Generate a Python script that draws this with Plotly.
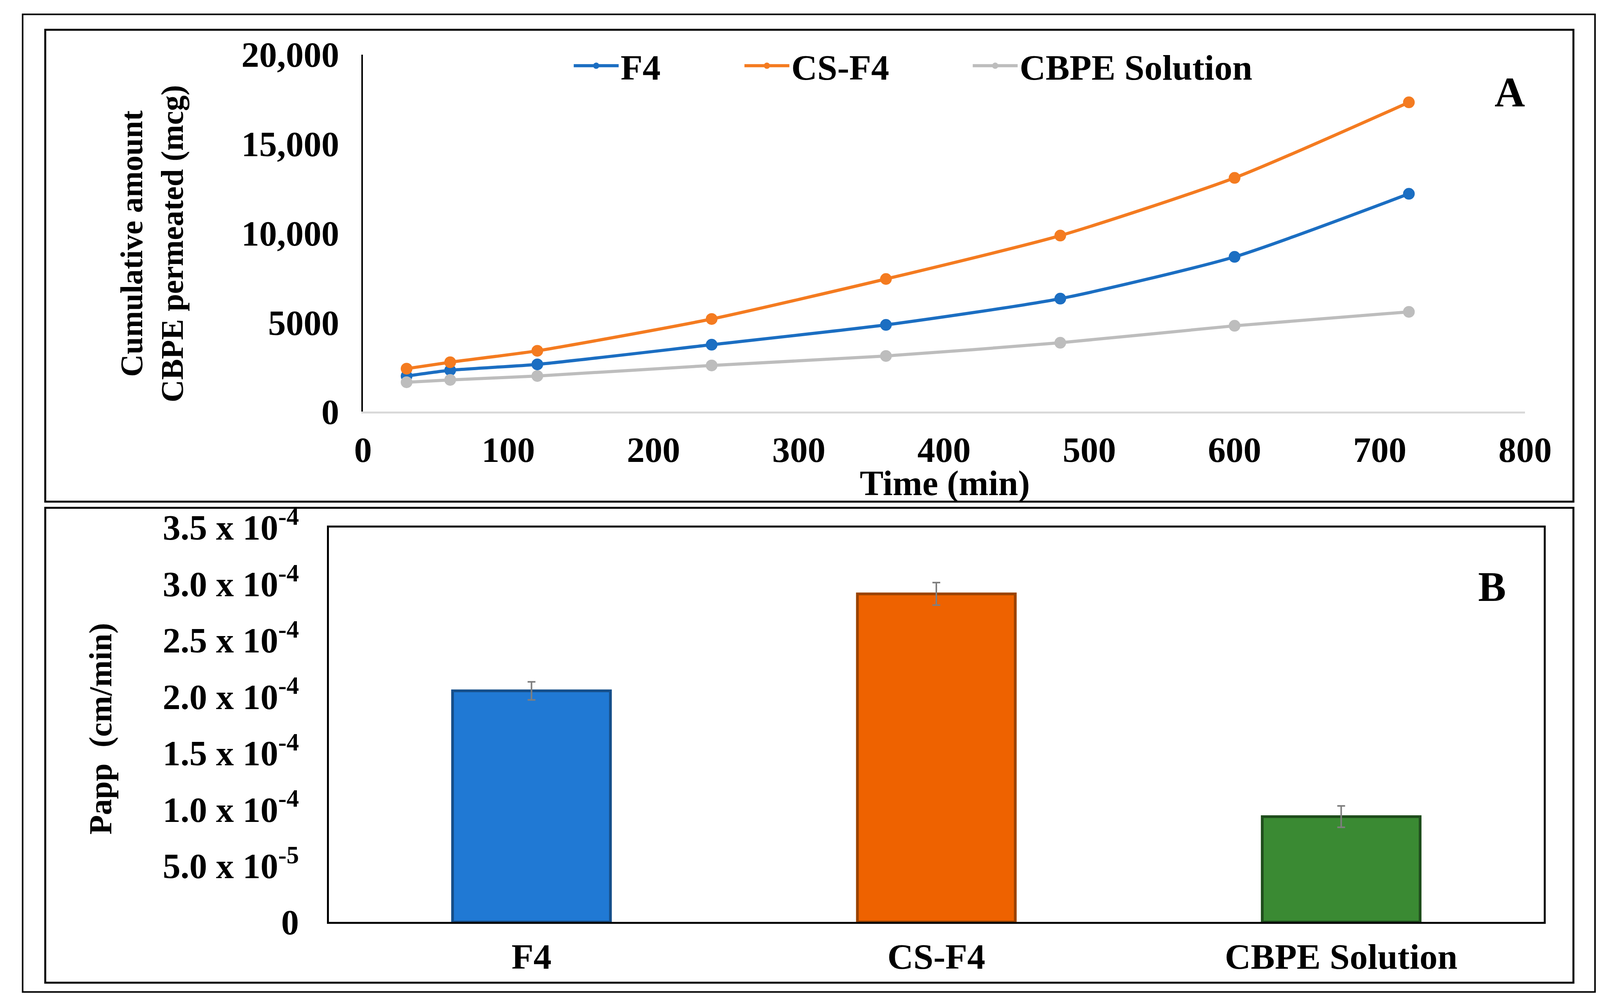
import plotly.graph_objects as go

# panel A - cumulative amount permeated (mcg)
time_min = [30, 60, 120, 240, 360, 480, 600, 720]
f4 = [1995, 2320, 2650, 3750, 4860, 6330, 8670, 12200]
cs_f4 = [2410, 2770, 3410, 5190, 7430, 9860, 13090, 17320]
cbpe_solution = [1650, 1780, 2000, 2590, 3120, 3860, 4810, 5590]

amount_ticks = [0, 5000, 10000, 15000, 20000]
amount_ticktext = ["0", "5000", "10,000", "15,000", "20,000"]

# panel B - apparent permeability (cm/min)
formulations = ["F4", "CS-F4", "CBPE Solution"]
papp = [2.05e-4, 2.91e-4, 0.935e-4]
papp_err = [0.08e-4, 0.10e-4, 0.095e-4]

papp_ticks = [0, 0.5e-4, 1.0e-4, 1.5e-4, 2.0e-4, 2.5e-4, 3.0e-4, 3.5e-4]
papp_ticktext = ["0", "5.0 x 10<sup>-5</sup>", "1.0 x 10<sup>-4</sup>",
                 "1.5 x 10<sup>-4</sup>", "2.0 x 10<sup>-4</sup>",
                 "2.5 x 10<sup>-4</sup>", "3.0 x 10<sup>-4</sup>",
                 "3.5 x 10<sup>-4</sup>"]

W, H = 4128, 2579
S = W / 1568
FONT = "Liberation Serif"
BODY = 8  # page margin the browser puts round the plot div


# layout was measured on a 1568 x 979.5 copy of the picture
def px(x):
    return (x * S - BODY) / W


def py(y):
    return 1 - (y * S - BODY) / H


def bold(size):
    return dict(family=FONT, size=size, color="black", weight="bold")


fig = go.Figure()

series = [("F4", f4, "#1b6ec2", 556), ("CS-F4", cs_f4, "#f47b20", 722),
          ("CBPE Solution", cbpe_solution, "#bdbdbd", 944)]
legend_pos = {}
for i, (name, vals, col, lx) in enumerate(series):
    lg = "legend" if i == 0 else "legend%d" % (i + 1)
    legend_pos[lg] = lx
    fig.add_trace(go.Scatter(
        x=time_min, y=vals, name=name, mode="lines+markers",
        line=dict(color=col, width=8, shape="spline", smoothing=0.6),
        marker=dict(color=col, size=30),
        legend=lg, xaxis="x", yaxis="y"))

fig.add_trace(go.Bar(
    x=formulations, y=papp, showlegend=False,
    marker=dict(color=["#2079d4", "#ee6200", "#3a8a33"],
                line=dict(color=["#164f8a", "#9a4200", "#1f4d1c"], width=7)),
    error_y=dict(type="data", array=papp_err, color="#7f7f7f",
                 thickness=4, width=10),
    xaxis="x2", yaxis="y2"))

fig.update_layout(
    width=W, height=H,
    margin=dict(l=0, r=0, t=0, b=0),
    paper_bgcolor="white", plot_bgcolor="white",
    font=bold(90),
    bargap=0.61,
    xaxis=dict(domain=[px(353), px(1483)], range=[0, 800], dtick=100,
               showgrid=False, zeroline=False, showline=True,
               linecolor="#d9d9d9", linewidth=5, ticks="",
               ticklabelstandoff=14, tickfont=bold(91), automargin=False,
               anchor="y"),
    yaxis=dict(domain=[py(400.5), py(53)], range=[0, 20000],
               tickvals=amount_ticks, ticktext=amount_ticktext,
               showgrid=False, zeroline=False, showline=True,
               linecolor="black", linewidth=4, ticks="",
               ticklabelstandoff=39, tickfont=bold(91), automargin=False,
               anchor="x"),
    xaxis2=dict(domain=[px(320), px(1501)], range=[-0.5, 2.5],
                type="category", showgrid=False, zeroline=False,
                showline=True, mirror=True, linecolor="black", linewidth=5,
                ticks="", ticklabelstandoff=4, tickfont=bold(92),
                automargin=False, anchor="y2"),
    yaxis2=dict(domain=[py(897), py(513)], range=[0, 3.5e-4],
                tickvals=papp_ticks, ticktext=papp_ticktext,
                showgrid=False, zeroline=False, showline=True, mirror=True,
                linecolor="black", linewidth=5, ticks="",
                ticklabelstandoff=54, tickfont=bold(91), automargin=False,
                anchor="x2"),
)

for lg, lx in legend_pos.items():
    fig.update_layout({lg: dict(orientation="h", x=px(lx), y=py(64),
                                xanchor="left", yanchor="middle",
                                font=bold(92), bgcolor="rgba(0,0,0,0)",
                                itemwidth=115)})

# frames round the whole figure and each panel
frames = [(22, 14, 1551, 965, 4), (44, 29, 1530, 488, 5),
          (44, 494, 1530, 956, 5)]
for x0, y0, x1, y1, w in frames:
    fig.add_shape(type="rect", xref="paper", yref="paper",
                  x0=px(x0), x1=px(x1), y0=py(y1), y1=py(y0),
                  line=dict(color="black", width=w), fillcolor="rgba(0,0,0,0)")

notes = [
    ("Time (min)", 919, 470, 0, 91),
    ("Cumulative amount<br>CBPE permeated (mcg)", 148, 237, -90, 80),
    ("Papp  (cm/min)", 98, 709, -90, 82),
    ("A", 1468, 90, 0, 108),
    ("B", 1451, 571, 0, 107),
]
for text, x, y, ang, size in notes:
    fig.add_annotation(text=text, xref="paper", yref="paper", x=px(x),
                       y=py(y), xanchor="center", yanchor="middle",
                       textangle=ang, showarrow=False, font=bold(size))

fig.write_html("out.html")
